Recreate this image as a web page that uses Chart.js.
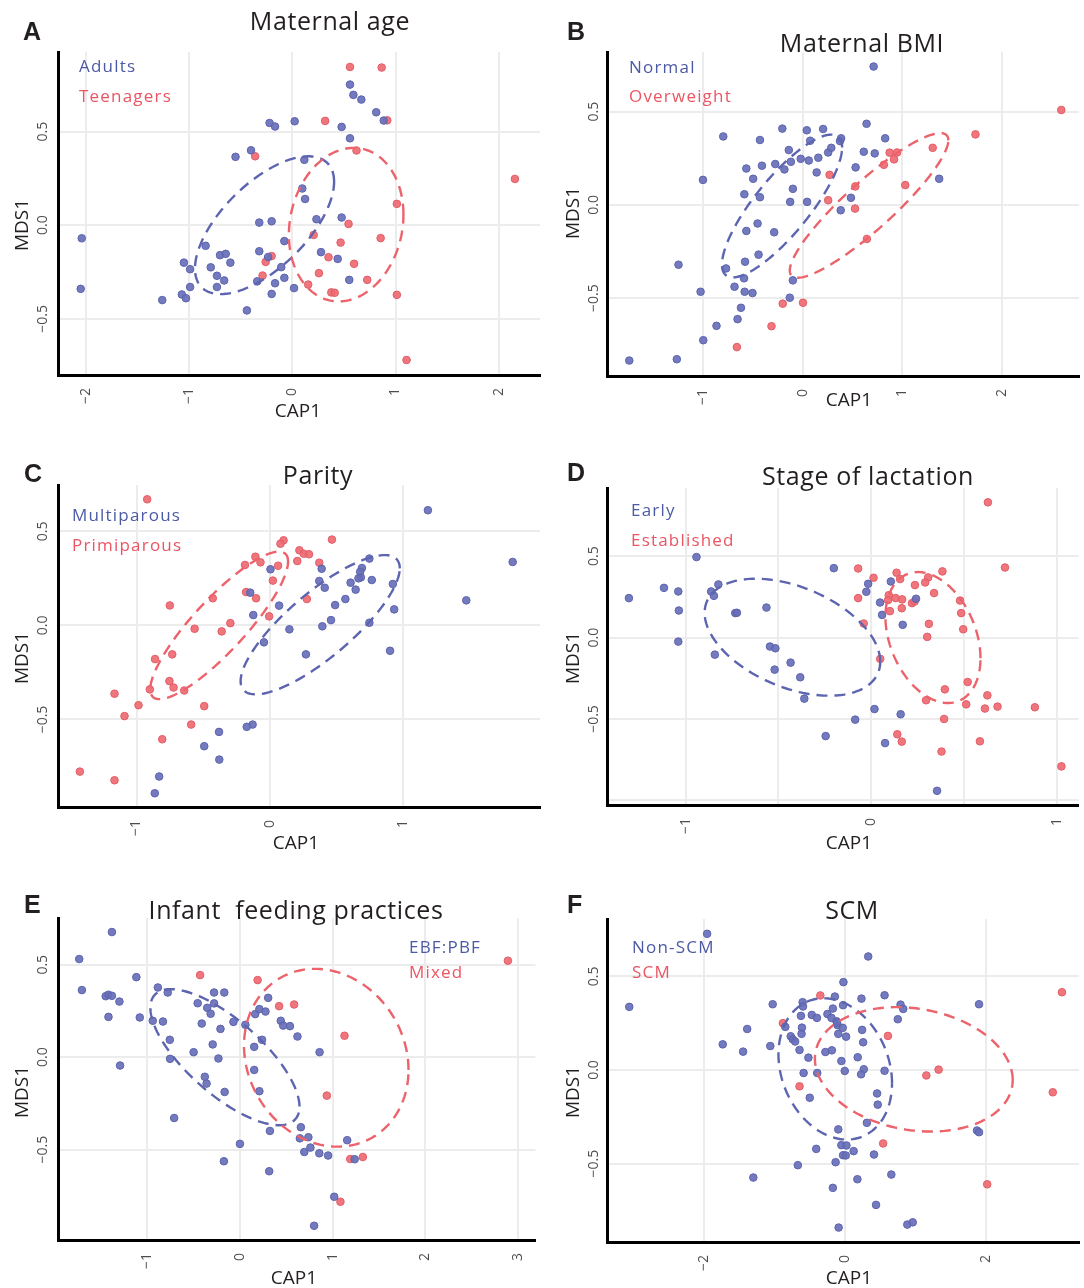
<!DOCTYPE html>
<html>
<head>
<meta charset="utf-8">
<script src="https://cdn.jsdelivr.net/npm/chart.js@4"></script>
<style>
  body { margin: 0; background: #fff; }
  #page { position: relative; width: 1084px; height: 1288px; overflow: hidden; }
  canvas { position: absolute; }
  .txt { position: absolute; line-height: 1; white-space: pre; font-family: 'Open Sans', sans-serif; }
  .letter { font-family: 'Liberation Sans', Arial, sans-serif; font-weight: bold; font-size: 25px; color: #231f20; }
  .title { font-size: 25px; letter-spacing: 0.6px; color: #231f20; transform: translateX(-50%); }
  .leg { font-size: 17px; letter-spacing: 1.2px; }
  .blue { color: #4c5aa6; }
  .red { color: #ea5563; }
  .xlab { font-size: 19px; color: #231f20; transform: translateX(-50%); }
  .ylab { font-size: 19px; color: #231f20; transform: translate(-50%, -50%) rotate(-90deg); }
</style>
</head>
<body>
<div id="page">
  <canvas id="chartA" width="545" height="445" style="left:0;top:0"></canvas>
  <canvas id="chartB" width="539" height="445" style="left:545px;top:0"></canvas>
  <canvas id="chartC" width="545" height="440" style="left:0;top:445px"></canvas>
  <canvas id="chartD" width="539" height="440" style="left:545px;top:445px"></canvas>
  <canvas id="chartE" width="545" height="403" style="left:0;top:885px"></canvas>
  <canvas id="chartF" width="539" height="403" style="left:545px;top:885px"></canvas>

  <div class="txt letter" style="left:23px;top:19px">A</div>
  <div class="txt letter" style="left:567px;top:19px">B</div>
  <div class="txt letter" style="left:24px;top:461px">C</div>
  <div class="txt letter" style="left:567px;top:460px">D</div>
  <div class="txt letter" style="left:24px;top:892px">E</div>
  <div class="txt letter" style="left:567px;top:892px">F</div>

  <div class="txt title" style="left:330px;top:8px">Maternal age</div>
  <div class="txt title" style="left:862px;top:30px">Maternal BMI</div>
  <div class="txt title" style="left:318px;top:462px">Parity</div>
  <div class="txt title" style="left:868px;top:463px">Stage of lactation</div>
  <div class="txt title" style="left:296px;top:897px">Infant  feeding practices</div>
  <div class="txt title" style="left:852px;top:897px">SCM</div>

  <div class="txt leg blue" style="left:79px;top:57px">Adults</div>
  <div class="txt leg red" style="left:79px;top:87px">Teenagers</div>
  <div class="txt leg blue" style="left:629px;top:58px">Normal</div>
  <div class="txt leg red" style="left:629px;top:87px">Overweight</div>
  <div class="txt leg blue" style="left:72px;top:506px">Multiparous</div>
  <div class="txt leg red" style="left:72px;top:536px">Primiparous</div>
  <div class="txt leg blue" style="left:631px;top:501px">Early</div>
  <div class="txt leg red" style="left:631px;top:531px">Established</div>
  <div class="txt leg blue" style="left:409px;top:938px">EBF:PBF</div>
  <div class="txt leg red" style="left:409px;top:963px">Mixed</div>
  <div class="txt leg blue" style="left:632px;top:938px">Non-SCM</div>
  <div class="txt leg red" style="left:632px;top:963px">SCM</div>

  <div class="txt xlab" style="left:298px;top:401px">CAP1</div>
  <div class="txt xlab" style="left:849px;top:390px">CAP1</div>
  <div class="txt xlab" style="left:296px;top:833px">CAP1</div>
  <div class="txt xlab" style="left:849px;top:833px">CAP1</div>
  <div class="txt xlab" style="left:294px;top:1268px">CAP1</div>
  <div class="txt xlab" style="left:849px;top:1268px">CAP1</div>

  <div class="txt ylab" style="left:21px;top:225px">MDS1</div>
  <div class="txt ylab" style="left:572px;top:213px">MDS1</div>
  <div class="txt ylab" style="left:21px;top:658px">MDS1</div>
  <div class="txt ylab" style="left:572px;top:658px">MDS1</div>
  <div class="txt ylab" style="left:21px;top:1092px">MDS1</div>
  <div class="txt ylab" style="left:572px;top:1092px">MDS1</div>
</div>

<script>
// A: Maternal age
const adultsA = [[-2.04,-0.07],[-2.05,-0.34],[-1.26,-0.40],[-1.07,-0.37],[-1.03,-0.39],[-0.99,-0.33],[-1.05,-0.20],[-0.99,-0.235],[-0.84,-0.11],[-0.79,-0.225],[-0.73,-0.27],[-0.73,-0.33],[-0.66,-0.295],[-0.70,-0.16],[-0.645,-0.153],[-0.60,-0.20],[-0.55,0.365],[-0.44,-0.455],[-0.40,0.40],[-0.32,0.014],[-0.32,-0.139],[-0.34,-0.30],[-0.234,-0.17],[-0.22,0.546],[-0.167,0.527],[-0.20,0.021],[-0.20,-0.367],[-0.167,-0.31],[-0.107,-0.224],[-0.077,-0.085],[-0.077,-0.281],[0.017,-0.336],[0.023,0.555],[0.117,0.349],[0.097,0.196],[0.124,0.14],[0.234,0.032],[0.278,-0.144],[0.44,-0.18],[0.478,0.525],[0.478,0.041],[0.552,-0.292],[0.559,0.464],[0.559,0.751],[0.592,0.696],[0.669,0.671],[0.813,0.603],[0.886,0.559]];
const teenagersA = [[0.559,0.845],[0.866,0.842],[0.318,0.557],[0.92,0.56],[-0.36,0.368],[0.622,0.399],[2.157,0.247],[1.013,0.114],[0.545,0.007],[0.207,-0.052],[0.468,-0.093],[0.856,-0.069],[-0.20,-0.165],[-0.258,-0.196],[0.351,-0.171],[0.599,-0.206],[-0.288,-0.269],[0.258,-0.256],[0.154,-0.317],[0.726,-0.292],[0.378,-0.359],[0.411,-0.361],[1.013,-0.372],[1.107,-0.72]];

// B: Maternal BMI
const normalB = [[0.713,0.742],[-1.744,-0.835],[-1.266,-0.828],[-1.249,-0.321],[-1.003,0.134],[-1.027,-0.466],[-1.0,-0.726],[-0.867,-0.649],[-0.799,0.367],[-0.771,-0.341],[-0.686,-0.439],[-0.655,-0.613],[-0.621,-0.552],[-0.59,-0.394],[-0.584,-0.466],[-0.505,-0.473],[-0.58,-0.305],[-0.587,0.057],[-0.567,0.195],[-0.567,-0.14],[-0.498,0.14],[-0.454,-0.10],[-0.444,-0.267],[-0.43,0.348],[-0.43,0.041],[-0.41,0.21],[-0.287,-0.147],[-0.276,0.219],[-0.205,0.409],[-0.184,0.19],[-0.14,0.294],[-0.126,0.016],[-0.119,0.231],[-0.099,0.086],[-0.099,-0.405],[-0.13,-0.498],[-0.02,0.247],[0.041,0.40],[0.044,0.016],[0.061,0.238],[0.075,0.344],[0.14,0.174],[0.157,0.253],[0.205,0.407],[0.256,0.281],[0.287,0.306],[0.375,0.342],[0.386,0.357],[0.382,-0.029],[0.485,0.038],[0.532,0.201],[0.614,0.285],[0.642,0.435],[0.724,0.276],[0.829,0.357],[1.372,0.14]];
const overweightB = [[2.60,0.509],[1.737,0.378],[1.307,0.306],[0.874,0.28],[0.949,0.281],[0.918,0.244],[0.816,0.215],[1.031,0.106],[0.27,0.161],[0.529,0.099],[0.256,0.025],[0.526,-0.02],[0.645,-0.183],[-0.201,-0.53],[0.003,-0.525],[-0.314,-0.651],[-0.662,-0.763]];

// C: Parity
const multiparousC = [[1.186,0.612],[1.822,0.337],[1.474,0.133],[0.747,0.355],[0.691,0.305],[0.678,0.285],[0.683,0.255],[0.665,0.25],[0.765,0.241],[0.606,0.227],[0.644,0.19],[0.923,0.22],[0.933,0.085],[0.389,0.301],[0.371,0.236],[0.412,0.20],[0.567,0.14],[0.49,0.108],[0.459,0.028],[0.394,-0.005],[0.747,0.014],[0.902,-0.135],[0.005,0.298],[0.07,0.105],[0.147,-0.021],[0.271,-0.154],[-0.044,-0.09],[-0.124,0.055],[-0.147,0.174],[-0.129,-0.527],[-0.173,-0.539],[-0.381,-0.566],[-0.492,-0.642],[-0.379,-0.713],[-0.83,-0.803],[-0.863,-0.892]];
const primiparousC = [[-0.92,0.67],[0.466,0.456],[0.103,0.452],[0.08,0.434],[0.222,0.399],[0.255,0.381],[0.294,0.378],[0.206,0.342],[0.371,0.333],[-0.108,0.365],[-0.186,0.321],[-0.07,0.335],[0.062,0.317],[0.023,0.238],[-0.178,0.177],[-0.103,0.144],[0.278,0.14],[-0.428,0.144],[-0.75,0.106],[-0.005,0.048],[-0.296,0.012],[-0.361,-0.032],[-0.564,-0.018],[-0.861,-0.179],[-0.732,-0.154],[-0.753,-0.296],[-0.722,-0.33],[-0.9,-0.34],[-0.642,-0.346],[-0.492,-0.429],[-0.985,-0.424],[-1.165,-0.363],[-1.09,-0.482],[-0.59,-0.527],[-0.807,-0.605],[-1.425,-0.777],[-1.165,-0.823]];

// D: Stage of lactation
const earlyD = [[-1.305,0.242],[-1.116,0.305],[-1.039,0.283],[-1.036,0.166],[-1.039,-0.025],[-0.941,0.494],[-0.862,0.283],[-0.847,0.256],[-0.823,0.326],[-0.842,-0.105],[-0.732,0.15],[-0.723,0.152],[-0.564,0.184],[-0.545,-0.055],[-0.516,-0.066],[-0.52,-0.197],[-0.434,-0.154],[-0.382,-0.244],[-0.36,-0.375],[-0.201,0.426],[-0.245,-0.605],[-0.086,-0.504],[-0.026,0.281],[-0.016,0.33],[0.018,-0.439],[0.048,0.215],[0.059,0.139],[0.075,-0.648],[0.106,0.344],[0.17,0.078],[0.159,-0.471],[0.242,0.238],[0.355,-0.941]];
const establishedD = [[0.629,0.83],[0.721,0.43],[-0.07,0.424],[0.013,0.367],[-0.07,0.242],[-0.04,0.086],[0.137,0.398],[0.156,0.359],[0.384,0.406],[0.307,0.369],[0.291,0.338],[0.236,0.322],[0.339,0.273],[0.095,0.26],[0.091,0.23],[0.132,0.242],[0.167,0.234],[0.22,0.211],[0.234,0.221],[0.101,0.162],[0.165,0.18],[0.479,0.227],[0.485,0.15],[0.311,0.084],[0.496,0.051],[0.302,0.004],[0.049,-0.131],[0.52,-0.273],[0.397,-0.318],[0.296,-0.385],[0.512,-0.41],[0.626,-0.355],[0.613,-0.436],[0.681,-0.424],[0.882,-0.428],[0.393,-0.50],[0.141,-0.594],[0.165,-0.639],[0.586,-0.637],[0.379,-0.70],[1.025,-0.791]];

// E: Infant feeding practices
const ebfE = [[-1.382,0.677],[-1.735,0.531],[-1.706,0.363],[-1.449,0.33],[-1.419,0.338],[-1.382,0.332],[-1.301,0.301],[-1.419,0.218],[-1.294,-0.045],[-1.118,0.433],[-1.081,0.215],[-0.941,0.197],[-0.886,0.377],[-0.831,0.193],[-0.779,0.35],[-0.757,0.094],[-0.754,-0.009],[-0.71,-0.329],[-0.50,0.027],[-0.456,0.292],[-0.412,0.182],[-0.379,-0.106],[-0.36,-0.143],[-0.353,0.267],[-0.316,0.235],[-0.279,0.35],[-0.279,0.291],[-0.294,0.069],[-0.232,-0.007],[-0.21,0.153],[-0.169,0.35],[-0.165,-0.188],[-0.173,-0.563],[-0.07,0.191],[0.0,-0.469],[0.059,0.175],[0.154,-0.069],[0.154,0.056],[0.165,0.233],[0.21,0.26],[0.21,-0.184],[0.239,0.094],[0.276,0.247],[0.305,0.321],[0.324,-0.399],[0.316,-0.617],[0.441,0.197],[0.467,0.171],[0.54,0.168],[0.621,0.112],[0.658,-0.379],[0.647,-0.439],[0.695,-0.513],[0.739,-0.433],[0.761,-0.489],[0.857,-0.52],[0.86,0.027],[0.952,-0.532],[1.158,-0.449],[1.239,-0.552],[1.018,-0.755],[0.801,-0.912]];
const mixedE = [[2.893,0.522],[-0.43,0.444],[0.191,0.417],[0.423,0.276],[0.585,0.285],[1.129,0.116],[0.938,-0.208],[1.191,-0.551],[1.327,-0.54],[1.085,-0.782]];

// F: SCM
const nonScmF = [[-1.959,0.727],[-3.064,0.337],[-1.39,0.219],[-1.737,0.137],[-1.448,0.098],[-1.062,0.128],[-1.028,0.351],[-1.303,-0.574],[-0.671,-0.508],[-0.502,-0.148],[-0.589,-0.016],[-0.396,-0.016],[-0.41,-0.421],[-0.647,0.107],[-0.521,0.066],[-0.849,0.23],[-0.772,0.18],[-0.743,0.164],[-0.709,0.152],[-0.627,0.289],[-0.603,0.362],[-0.598,0.339],[-0.613,0.226],[-0.618,0.193],[-0.473,0.294],[-0.40,0.278],[-0.28,0.096],[-0.188,0.105],[-0.251,0.299],[-0.193,0.278],[-0.174,0.328],[-0.145,0.392],[-0.121,0.26],[-0.106,0.239],[-0.097,0.193],[-0.116,0.253],[-0.034,0.225],[-0.024,0.469],[-0.029,0.346],[0.014,0.178],[-0.053,0.048],[-0.005,-0.005],[-0.097,-0.317],[-0.053,-0.401],[0.019,-0.403],[-0.029,-0.455],[0.01,-0.456],[0.121,-0.433],[-0.135,-0.492],[-0.174,-0.629],[-0.092,-0.841],[0.174,-0.583],[0.232,0.381],[0.241,0.214],[0.256,0.148],[0.179,0.068],[0.265,0.004],[0.227,-0.023],[0.309,-0.282],[0.328,0.606],[0.41,-0.451],[0.439,-0.72],[0.454,-0.125],[0.463,-0.185],[0.56,0.399],[0.56,-0.004],[0.656,-0.558],[0.748,0.271],[0.787,0.349],[0.825,0.326],[0.883,-0.825],[0.96,-0.813],[1.901,0.351],[1.872,-0.323],[1.901,-0.332]];
const scmF = [[-0.352,0.398],[-0.883,0.25],[-0.647,-0.087],[0.608,0.182],[0.54,-0.392],[1.153,-0.029],[1.327,0.002],[2.017,-0.61],[2.948,-0.119],[3.078,0.415]];

// ellipses: centre x, centre y, half width, half height, correlation
const adultsEllipse = [-0.269, 0.0, 0.674, 0.368, 0.63];
const teenagersEllipse = [0.522, 0.003, 0.555, 0.41, 0.13];
const normalEllipse = [-0.208, -0.006, 0.604, 0.383, 0.82];
const overweightEllipse = [0.667, -0.003, 0.797, 0.388, 0.9];
const multiparousEllipse = [0.378, 0.0035, 0.597, 0.37, 0.81];
const primiparousEllipse = [-0.38, 0.0, 0.517, 0.392, 0.865];
const earlyEllipse = [-0.424, 0.002, 0.473, 0.359, -0.418];
const establishedEllipse = [0.333, 0.0, 0.256, 0.402, -0.316];
const ebfEllipse = [-0.162, 0.0, 0.805, 0.368, -0.726];
const mixedEllipse = [0.932, -0.003, 0.888, 0.481, -0.137];
const nonScmEllipse = [-0.14, 0.006, 0.806, 0.377, -0.205];
const scmEllipse = [0.975, 0.0035, 1.404, 0.332, -0.17];

// ticks
const yTicks = [-0.5, 0, 0.5];
const yTickLabels = ['\u22120.5', '0.0', '0.5'];
const yTicksD = [-1, -0.5, 0, 0.5];
const yTickLabelsD = ['', '\u22120.5', '0.0', '0.5'];
const xTicksA = [-2, -1, 0, 1, 2];
const xTickLabelsA = ['\u22122', '\u22121', '0', '1', '2'];
const xTicksB = [-1, 0, 1, 2];
const xTickLabelsB = ['\u22121', '0', '1', '2'];
const xTicksC = [-1, 0, 1];
const xTickLabelsC = ['\u22121', '0', '1'];
const xTicksD = [-1, -0.5, 0, 0.5, 1];
const xTickLabelsD = ['\u22121', '', '0', '', '1'];
const xTicksE = [-1, 0, 1, 2, 3];
const xTickLabelsE = ['\u22121', '0', '1', '2', '3'];
const xTicksF = [-2, 0, 2];
const xTickLabelsF = ['\u22122', '0', '2'];

const BLUE = { fill: 'rgba(104,111,184,0.92)', line: '#5c63ad', ellipse: '#5d65b0' };
const RED = { fill: 'rgba(238,106,114,0.92)', line: '#e35c66', ellipse: '#ec636b' };

const ellipsePlugin = {
    id: 'ellipses',
    afterDatasetsDraw(chart, args, opts) {
        const { ctx, chartArea, scales: { x, y } } = chart;
        ctx.save();
        ctx.beginPath();
        ctx.rect(chartArea.left, chartArea.top, chartArea.width, chartArea.height);
        ctx.clip();
        ctx.lineWidth = 2.4;
        ctx.setLineDash([11, 7]);
        (opts.items || []).forEach(({ shape, color }) => {
            const [cx, cy, hw, hh, r] = shape;
            const k = Math.sqrt(1 - r * r);
            ctx.strokeStyle = color;
            ctx.beginPath();
            for (let i = 0; i <= 160; i++) {
                const t = i / 160 * Math.PI * 2;
                const px = x.getPixelForValue(cx + hw * Math.cos(t));
                const py = y.getPixelForValue(cy + hh * (r * Math.cos(t) + k * Math.sin(t)));
                if (i === 0) ctx.moveTo(px, py); else ctx.lineTo(px, py);
            }
            ctx.stroke();
        });
        ctx.restore();
    }
};

const makeAxis = (min, max, ticks, labels, side, size, pad) => ({
    type: 'linear',
    min: min,
    max: max,
    afterBuildTicks: s => { s.ticks = ticks.map(v => ({ value: v })); },
    afterFit: s => { s[side] = size; },
    grid: { color: '#ececec', lineWidth: 2, drawTicks: false },
    border: { display: true, color: '#000', width: 3 },
    ticks: {
        autoSkip: false,
        minRotation: 90,
        maxRotation: 90,
        crossAlign: 'center',
        padding: pad,
        color: '#4d4d4d',
        font: { family: 'Open Sans', size: 14, lineHeight: 1 },
        callback: (v, i) => labels[i]
    }
});

const makePanel = (id, cfg) => {
    const ctx = document.getElementById(id).getContext('2d');
    const group = (pts, c) => ({
        data: pts.map(([x, y]) => ({ x, y })),
        backgroundColor: c.fill,
        borderColor: c.line,
        borderWidth: 1,
        pointRadius: 3.8
    });
    return new Chart(ctx, {
        type: 'scatter',
        data: { datasets: [group(cfg.blue, BLUE), group(cfg.red, RED)] },
        options: {
            responsive: false,
            animation: false,
            events: [],
            layout: { padding: { top: cfg.top, right: cfg.right, left: 0, bottom: 0 } },
            plugins: {
                legend: { display: false },
                tooltip: { enabled: false },
                ellipses: { items: [
                    { shape: cfg.blueEllipse, color: BLUE.ellipse },
                    { shape: cfg.redEllipse, color: RED.ellipse }
                ] }
            },
            scales: {
                x: makeAxis(cfg.x[0], cfg.x[1], cfg.xTicks, cfg.xLabels, 'height', cfg.xh, 13),
                y: makeAxis(cfg.y[0], cfg.y[1], cfg.yTicks || yTicks, cfg.yLabels || yTickLabels, 'width', cfg.yw, cfg.yPad)
            }
        },
        plugins: [ellipsePlugin]
    });
};

document.addEventListener('DOMContentLoaded', () => {
    makePanel('chartA', { blue: adultsA, red: teenagersA, blueEllipse: adultsEllipse, redEllipse: teenagersEllipse,
        x: [-2.27, 2.40], y: [-0.80, 0.925], xTicks: xTicksA, xLabels: xTickLabelsA, top: 52, right: 5, xh: 70, yw: 58, yPad: 1 });
    makePanel('chartB', { blue: normalB, red: overweightB, blueEllipse: normalEllipse, redEllipse: overweightEllipse,
        x: [-1.968, 2.778], y: [-0.918, 0.82], xTicks: xTicksB, xLabels: xTickLabelsB, top: 52, right: 0, xh: 69, yw: 62, yPad: -1 });
    makePanel('chartC', { blue: multiparousC, red: primiparousC, blueEllipse: multiparousEllipse, redEllipse: primiparousEllipse,
        x: [-1.589, 2.027], y: [-0.965, 0.746], xTicks: xTicksC, xLabels: xTickLabelsC, top: 40, right: 5, xh: 78, yw: 58, yPad: 1 });
    makePanel('chartD', { blue: earlyD, red: establishedD, blueEllipse: earlyEllipse, redEllipse: establishedEllipse,
        x: [-1.423, 1.117], y: [-1.028, 0.918], xTicks: xTicksD, xLabels: xTickLabelsD, yTicks: yTicksD, yLabels: yTickLabelsD,
        top: 43, right: 0, xh: 80, yw: 62, yPad: -1 });
    makePanel('chartE', { blue: ebfE, red: mixedE, blueEllipse: ebfEllipse, redEllipse: mixedEllipse,
        x: [-1.964, 3.19], y: [-0.989, 0.753], xTicks: xTicksE, xLabels: xTickLabelsE, top: 33, right: 5, xh: 48, yw: 58, yPad: 1 });
    makePanel('chartF', { blue: nonScmF, red: scmF, blueEllipse: nonScmEllipse, redEllipse: scmEllipse,
        x: [-3.38, 3.32], y: [-0.918, 0.806], xTicks: xTicksF, xLabels: xTickLabelsF, top: 34, right: 0, xh: 46, yw: 62, yPad: -1 });
});
</script>
</body>
</html>
